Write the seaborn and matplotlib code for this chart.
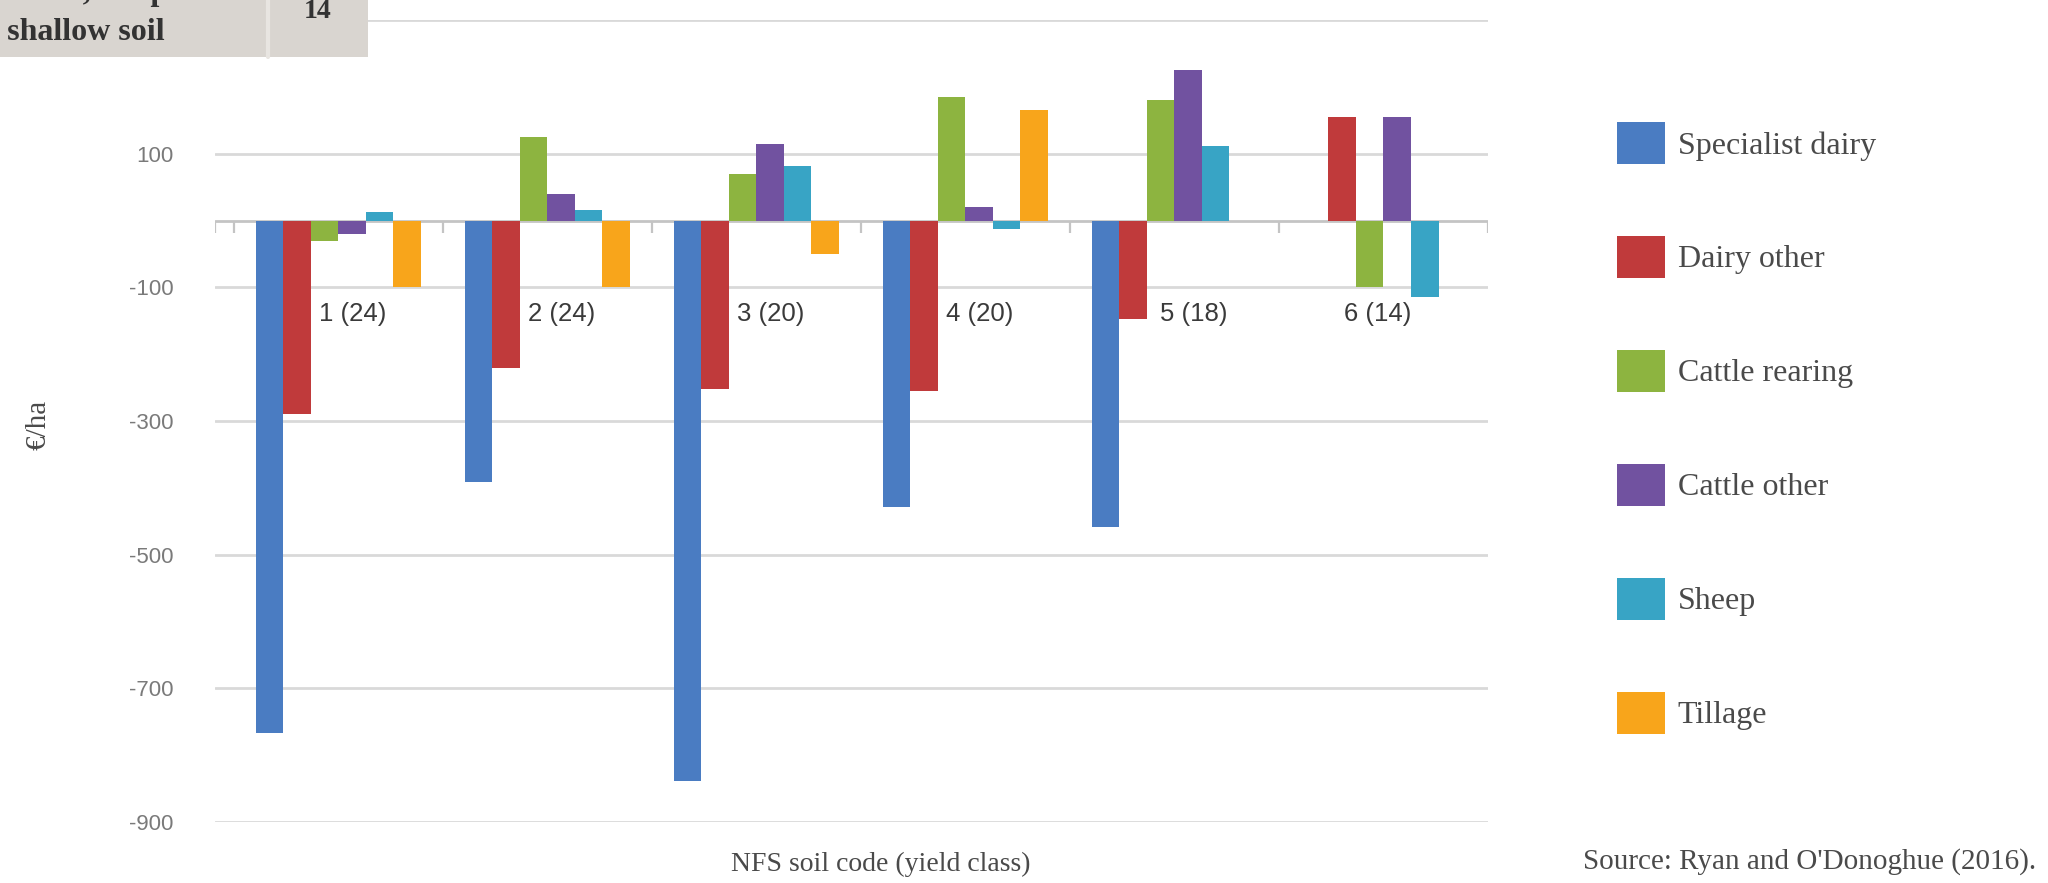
import numpy as np
import pandas as pd
import matplotlib
matplotlib.use("Agg")
import matplotlib.pyplot as plt
from matplotlib.patches import Rectangle, Patch
from matplotlib.lines import Line2D
import seaborn as sns

# --- data -------------------------------------------------------------
soil_codes = ["1 (24)", "2 (24)", "3 (20)", "4 (20)", "5 (18)", "6 (14)"]
systems = ["Specialist dairy", "Dairy other", "Cattle rearing",
           "Cattle other", "Sheep", "Tillage"]

specialist_dairy = [-767, -392, -838, -428, -458, np.nan]
dairy_other      = [-290, -220, -252, -255, -148, 155]
cattle_rearing   = [-30, 125, 70, 185, 180, -100]
cattle_other     = [-20, 40, 115, 20, 225, 155]
sheep            = [12, 15, 82, -12, 112, -115]
tillage          = [-100, -100, -50, 165, np.nan, np.nan]

y_ticks = [-900, -700, -500, -300, -100, 100, 300]
colors = ["#4A7CC2", "#C03A3B", "#8DB440", "#7152A0", "#38A4C5", "#F8A51B"]

series = [specialist_dairy, dairy_other, cattle_rearing,
          cattle_other, sheep, tillage]
rows = [(code, name, val)
        for name, vals in zip(systems, series)
        for code, val in zip(soil_codes, vals)
        if not np.isnan(val)]
df = pd.DataFrame(rows, columns=["code", "system", "value"])

# --- figure -----------------------------------------------------------
sns.set_theme(style="white")
plt.rcParams["font.family"] = ["Liberation Sans", "DejaVu Sans"]

W, H = 2048, 883
fig = plt.figure(figsize=(W / 100, H / 100), dpi=100)
fig.patch.set_facecolor("white")
ax = fig.add_axes([215 / W, 61 / H, 1273 / W, 802 / H])

sns.barplot(data=df, x="code", y="value", hue="system",
            order=soil_codes, hue_order=systems,
            palette=colors, saturation=1, width=0.79,
            errorbar=None, legend=False, ax=ax, zorder=3,
            linewidth=0, edgecolor="none")

ax.set_ylim(-900, 300)
ax.set_xlim(-0.59, len(soil_codes) - 0.5)
for s in ax.spines.values():
    s.set_visible(False)

ax.set_yticks(y_ticks)
ax.set_yticklabels([str(t) for t in y_ticks])
ax.yaxis.grid(True, color="#d9d9d9", lw=2.0)
ax.set_axisbelow(True)
ax.tick_params(axis="y", length=0, pad=30, labelsize=16, labelcolor="#7a7a7a")
ax.tick_params(axis="x", length=0, labelbottom=False)
ax.set_xlabel("")
ax.set_ylabel("")

# category axis along zero with small boundary ticks
ax.axhline(0, color="#c4c4c4", lw=2.0, zorder=2)
bounds = np.arange(len(soil_codes) + 1) - 0.5
ax.vlines(np.r_[ax.get_xlim()[0], bounds], -18, 0, color="#c4c4c4", lw=1.6, zorder=2)

# category labels sitting just below the axis
label_shift = [0.07, 0.07, 0.07, 0.07, 0.09, -0.03]
for i, (code, dx) in enumerate(zip(soil_codes, label_shift)):
    ax.text(i + dx, -140, code, ha="center", va="center",
            fontsize=18.5, color="#3a3a3a", zorder=4)

# axis titles and source
serif = ["Liberation Serif", "DejaVu Serif"]
fig.text(39 / W, 1 - 425 / H, "€/ha", rotation=90, ha="center", va="center",
         fontsize=21, color="#4a4a4a", family=serif)
fig.text(881 / W, 1 - 864 / H, "NFS soil code (yield class)", ha="center",
         va="center", fontsize=20, color="#4a4a4a", family=serif)
fig.text(1583 / W, 1 - 862 / H, "Source: Ryan and O'Donoghue (2016).",
         ha="left", va="center", fontsize=21, color="#4a4a4a", family=serif)

# legend
handles = [Patch(facecolor=c, edgecolor="none") for c in colors]
fig.legend(handles, systems, loc="center left",
           bbox_to_anchor=(1617 / W, 1 - 428 / H), frameon=False,
           prop={"family": serif, "size": 23},
           labelcolor="#4a4a4a", handlelength=1.5, handleheight=1.65,
           handletextpad=0.4, labelspacing=2.25, borderpad=0,
           borderaxespad=0)

# table panel at the top-left corner
fig.add_artist(Rectangle((0, 1 - 57 / H), 368 / W, 57 / H,
                         transform=fig.transFigure, facecolor="#d9d5d0",
                         edgecolor="none", zorder=10))
fig.add_artist(Line2D([268 / W, 268 / W], [1 - 57 / H, 1],
                      transform=fig.transFigure, color="#e8e5e1", lw=3, zorder=11))
fig.text(168 / W, 1 - 0 / H, "mineral, steep", ha="right", va="baseline",
         fontsize=23, weight="bold", color="#333333", family=serif, zorder=12)
fig.text(165 / W, 1 - 39 / H, ", shallow soil", ha="right", va="baseline",
         fontsize=23, weight="bold", color="#333333", family=serif, zorder=12)
fig.text(318 / W, 1 - 12 / H, "14", ha="center", va="center",
         fontsize=20, weight="bold", color="#333333", family=serif, zorder=12)

fig.savefig("out.png", dpi=100, facecolor="white")
